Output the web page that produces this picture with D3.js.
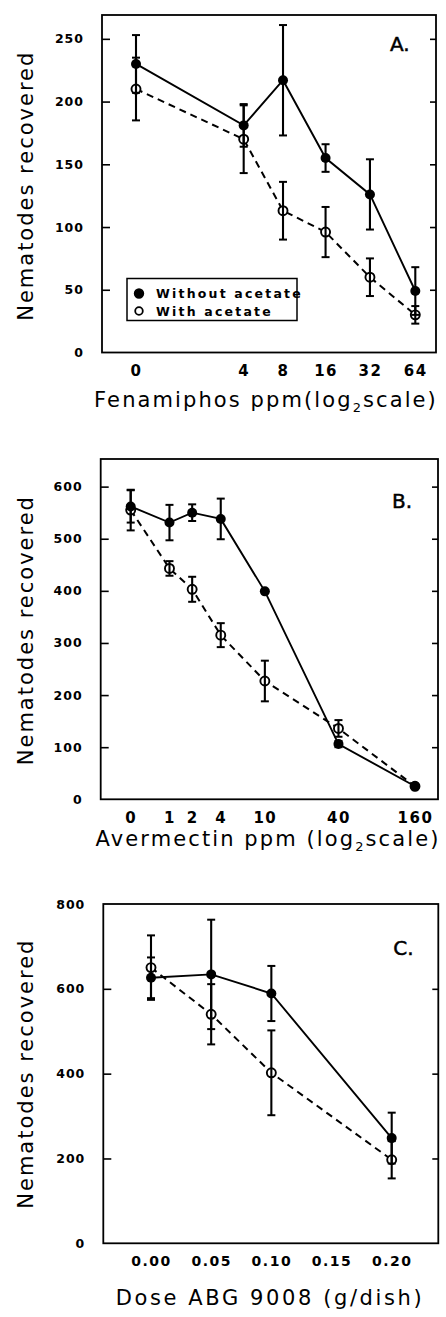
<!DOCTYPE html>
<html>
<head>
<meta charset="utf-8">
<script src="https://cdn.jsdelivr.net/npm/d3@7"></script>
<style>
  html, body { margin: 0; padding: 0; background: #fff; }
  svg { display: block; }
</style>
</head>
<body>
<svg id="chart" width="446" height="1317"></svg>
<script>
// ---------------- DATA ----------------
// Panel A: Fenamiphos
const dosesA = [0, 4, 8, 16, 32, 64];
const tickLabelsA = ["0", "4", "8", "16", "32", "64"];
const withoutA = [230, 181, 217, 155, 126, 49];
const withoutErrA = [23, 17, 44, 11, 28, 19];
const withA = [210, 170, 113, 96, 60, 30];
const withErrA = [25, 27, 23, 20, 15, 7];
const yTicksA = [0, 50, 100, 150, 200, 250];

// Panel B: Avermectin
const dosesB = [0, 1, 2, 4, 10, 40, 160];
const tickLabelsB = ["0", "1", "2", "4", "10", "40", "160"];
const withoutB = [562, 531, 550, 538, 399, 106, 25];
const withoutErrB = [31, 34, 16, 39, 0, 6, 0];
const withB = [555, 443, 403, 315, 227, 136, 25];
const withErrB = [39, 14, 24, 23, 39, 16, 0];
const yTicksB = [0, 100, 200, 300, 400, 500, 600];

// Panel C: ABG 9008
const dosesC = [0, 0.05, 0.10, 0.20];
const xTicksC = [0, 0.05, 0.10, 0.15, 0.20];
const withoutC = [626, 634, 589, 248];
const withoutErrC = [48, 129, 65, 60];
const withC = [650, 540, 402, 197];
const withErrC = [76, 71, 100, 44];
const yTicksC = [0, 200, 400, 600, 800];

const seriesNames = ["Without acetate", "With acetate"];
const yTitle = "Nematodes recovered";

// ---------------- DRAWING ----------------
const svg = d3.select("#chart");
const TITLE_FONT = "'DejaVu Sans', 'Liberation Sans', sans-serif";

function drawPanel(p) {
  const g = svg.append("g");
  const y = d3.scaleLinear().domain(p.yDomain).range([p.bottom, p.top]);
  const x = p.x;

  // frame
  g.append("rect")
    .attr("x", p.left).attr("y", p.top)
    .attr("width", p.right - p.left).attr("height", p.bottom - p.top)
    .attr("fill", "none").attr("stroke", "#000").attr("stroke-width", 1.8);

  // y ticks (inward, both sides)
  const yAxisL = d3.axisLeft(y).tickValues(p.yTicks).tickSize(-8).tickPadding(18).tickFormat(d3.format("d"));
  const ga = g.append("g").attr("transform", `translate(${p.left},0)`).call(yAxisL);
  ga.select(".domain").remove();
  ga.selectAll(".tick line").attr("stroke", "#000").attr("stroke-width", 1.6);
  ga.selectAll(".tick line").filter(d => d === 0 || d === p.yDomain[1]).remove();
  ga.selectAll(".tick text")
    .attr("font-family", TITLE_FONT).attr("font-weight", "bold")
    .attr("font-size", 12.5).attr("letter-spacing", 1).attr("fill", "#000");

  const yAxisR = d3.axisRight(y).tickValues(p.yTicks.filter(d => d !== 0 && d !== p.yDomain[1])).tickSize(-6).tickFormat("");
  const gr = g.append("g").attr("transform", `translate(${p.right},0)`).call(yAxisR);
  gr.select(".domain").remove();
  gr.selectAll(".tick line").attr("stroke", "#000").attr("stroke-width", 1.6);

  // x tick labels (no tick marks)
  const xAxis = d3.axisBottom(x).tickValues(p.xTicks).tickSize(0).tickPadding(p.xTickPad)
    .tickFormat((d, i) => p.xTickLabels ? p.xTickLabels[i] : d3.format(".2f")(d));
  const gx = g.append("g").attr("transform", `translate(0,${p.bottom})`).call(xAxis);
  gx.select(".domain").remove();
  gx.selectAll(".tick text")
    .attr("font-family", TITLE_FONT).attr("font-weight", "bold")
    .attr("font-size", p.xTickSize).attr("letter-spacing", 1.5).attr("fill", "#000");

  // lines
  const line = d3.line().x((d, i) => x(p.doses[i])).y(d => y(d));
  g.append("path").datum(p.withV).attr("d", line)
    .attr("fill", "none").attr("stroke", "#000").attr("stroke-width", 2)
    .attr("stroke-dasharray", "7,5");
  g.append("path").datum(p.withoutV).attr("d", line)
    .attr("fill", "none").attr("stroke", "#000").attr("stroke-width", 1.9);

  // markers
  g.selectAll(".open").data(p.withV).enter().append("circle")
    .attr("cx", (d, i) => x(p.doses[i])).attr("cy", d => y(d)).attr("r", 4.5)
    .attr("fill", "#fff").attr("stroke", "#000").attr("stroke-width", 1.9);
  g.selectAll(".filled").data(p.withoutV).enter().append("circle")
    .attr("cx", (d, i) => x(p.doses[i])).attr("cy", d => y(d)).attr("r", 5)
    .attr("fill", "#000");

  // error bars
  function errBars(vals, errs) {
    vals.forEach((v, i) => {
      const e = errs[i];
      if (!e) return;
      const cx = x(p.doses[i]);
      const y1 = y(v - e), y2 = y(v + e);
      g.append("line").attr("x1", cx).attr("x2", cx).attr("y1", y1).attr("y2", y2)
        .attr("stroke", "#000").attr("stroke-width", 2.1);
      [y1, y2].forEach(yy => g.append("line")
        .attr("x1", cx - 4).attr("x2", cx + 4).attr("y1", yy).attr("y2", yy)
        .attr("stroke", "#000").attr("stroke-width", 2));
    });
  }
  errBars(p.withV, p.withErr);
  errBars(p.withoutV, p.withoutErr);

  // panel letter
  g.append("text").attr("x", p.right - p.letterDx).attr("y", p.top + p.letterDy)
    .attr("font-family", TITLE_FONT).attr("font-size", 20).attr("fill", "#000")
    .attr("stroke", "#000").attr("stroke-width", 0.5)
    .text(p.letter);

  // y title
  const yMid = (p.top + p.bottom) / 2 + p.yTitleShift;
  g.append("text").attr("transform", `translate(33,${yMid}) rotate(-90)`)
    .attr("text-anchor", "middle").attr("font-family", TITLE_FONT)
    .attr("font-size", 21).attr("letter-spacing", 2).attr("fill", "#000")
    .text(yTitle);

  // x title
  const xt = g.append("text").attr("x", p.xTitleX).attr("y", p.xTitleY)
    .attr("text-anchor", "middle").attr("font-family", TITLE_FONT)
    .attr("font-size", 21).attr("letter-spacing", p.xTitleSpacing).attr("fill", "#000");
  p.xTitle.forEach(part => {
    const t = xt.append("tspan").text(part.t);
    if (part.sub) t.attr("font-size", 13).attr("dy", 5);
    if (part.after) t.attr("dy", -5);
  });
  return { g, x, y };
}

// Panel A
const panelA = {
  left: 102, right: 436, top: 15, bottom: 352.5,
  yDomain: [0, 269], yTicks: yTicksA,
  doses: dosesA, xTicks: dosesA, xTickLabels: tickLabelsA, xTickPad: 13, xTickSize: 15,
  withoutV: withoutA, withoutErr: withoutErrA, withV: withA, withErr: withErrA,
  letter: "A.", letterDx: 46, letterDy: 36, yTitleShift: 2,
  xTitleX: 266, xTitleY: 407, xTitleSpacing: 2.1,
  xTitle: [{ t: "Fenamiphos ppm(log" }, { t: "2", sub: true }, { t: "scale)", after: true }]
};
panelA.x = d3.scaleSymlog().constant(1).domain([0, 64]).range([136, 415.3]);
const rA = drawPanel(panelA);

// legend in A
const lg = rA.g.append("g");
lg.append("rect").attr("x", 127).attr("y", 278.5).attr("width", 170).attr("height", 42)
  .attr("fill", "#fff").attr("stroke", "#000").attr("stroke-width", 1.5);
seriesNames.forEach((name, i) => {
  const yy = 293.5 + i * 17.5;
  lg.append("circle").attr("cx", 139).attr("cy", yy).attr("r", i === 0 ? 4.3 : 3.8)
    .attr("fill", i === 0 ? "#000" : "#fff").attr("stroke", "#000").attr("stroke-width", 1.8);
  lg.append("text").attr("x", 156).attr("y", yy + 4.5)
    .attr("font-family", TITLE_FONT).attr("font-weight", "bold")
    .attr("font-size", 12.5).attr("letter-spacing", 2.2).attr("fill", "#000").text(name);
});

// Panel B
const panelB = {
  left: 100.7, right: 438, top: 459, bottom: 799.3,
  yDomain: [0, 653], yTicks: yTicksB,
  doses: dosesB, xTicks: dosesB, xTickLabels: tickLabelsB, xTickPad: 13, xTickSize: 15,
  withoutV: withoutB, withoutErr: withoutErrB, withV: withB, withErr: withErrB,
  letter: "B.", letterDx: 46, letterDy: 49, yTitleShift: 1,
  xTitleX: 268, xTitleY: 846, xTitleSpacing: 2.1,
  xTitle: [{ t: "Avermectin ppm (log" }, { t: "2", sub: true }, { t: "scale)", after: true }]
};
panelB.x = d3.scaleSymlog().constant(1).domain([0, 160]).range([130.7, 415]);
drawPanel(panelB);

// Panel C
const panelC = {
  left: 103.3, right: 438.3, top: 904, bottom: 1243.3,
  yDomain: [0, 800], yTicks: yTicksC,
  doses: dosesC, xTicks: xTicksC, xTickLabels: null, xTickPad: 13, xTickSize: 14,
  withoutV: withoutC, withoutErr: withoutErrC, withV: withC, withErr: withErrC,
  letter: "C.", letterDx: 45, letterDy: 51, yTitleShift: 0,
  xTitleX: 270, xTitleY: 1305, xTitleSpacing: 2.6,
  xTitle: [{ t: "Dose ABG 9008 (g/dish)" }]
};
panelC.x = d3.scaleLinear().domain([0, 0.20]).range([151, 391.7]);
drawPanel(panelC);
</script>
</body>
</html>
